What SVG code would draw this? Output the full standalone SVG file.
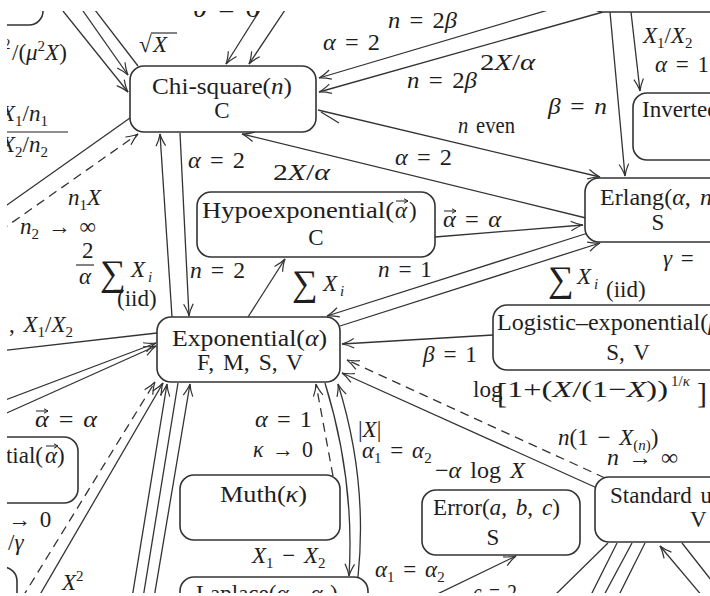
<svg xmlns="http://www.w3.org/2000/svg" width="710" height="596" viewBox="0 0 710 596">
<defs>
<style>
.t{font-family:"Liberation Serif","Times New Roman",serif;font-size:23px;fill:#1e1e1e;word-spacing:3px}
.i{font-style:italic}
.s{font-size:15px}
.box{fill:#fff;stroke:#333;stroke-width:1.6}
.ln{fill:none;stroke:#333;stroke-width:1.3}
.d{stroke-dasharray:9 6}
.ar{marker-end:url(#ah)}
</style>
<marker id="ah" viewBox="-14 -7 16 14" refX="0" refY="0" markerWidth="16" markerHeight="14" markerUnits="userSpaceOnUse" orient="auto"><path d="M-12,-4.8 Q-5,-1 0,0 Q-5,1 -12,4.8" fill="none" stroke="#333" stroke-width="1.2"/></marker>
<marker id="va" viewBox="-6 -4 8 8" refX="0" refY="0" markerWidth="8" markerHeight="8" markerUnits="userSpaceOnUse" orient="auto"><path d="M-4,-2.2 L0,0 L-4,2.2" fill="none" stroke="#1e1e1e" stroke-width="1"/></marker>
<clipPath id="clip"><rect x="7" y="11" width="703" height="582"/></clipPath>
</defs>
<rect width="710" height="596" fill="#fff"/>
<g clip-path="url(#clip)">
<g id="connectors">
<path class="ln ar" d="M63,11 L128,92"/>
<path class="ln ar" d="M83,11 L128,75"/>
<path class="ln" d="M138,66 L95,10"/>
<path class="ln ar" d="M260,10 L226,64"/>
<path class="ln ar" d="M285,10 L249,64"/>
<path class="ln ar" d="M565,5 L319,78"/>
<path class="ln ar" d="M603,12 L319,92"/>
<path class="ln ar" d="M610,12 L625,176"/>
<path class="ln ar" d="M631,12 L640,91"/>
<path class="ln ar" d="M318,110 L600,177"/>
<path class="ln" d="M321,112 L339,123"/>
<path class="ln ar" d="M586,218 L242,134"/>
<path class="ln ar" d="M172,317 L160,134"/>
<path class="ln ar" d="M180,133 L189,316"/>
<path class="ln" d="M130,118 L0,210"/>
<path class="ln d ar" d="M0,231 L138,134"/>
<path class="ln ar" d="M248,317 L285,259"/>
<path class="ln ar" d="M435,237 L583,225"/>
<path class="ln ar" d="M588,233 L327,316"/>
<path class="ln ar" d="M340,326 L600,243"/>
<path class="ln ar" d="M493,335 L342,344"/>
<path class="ln" d="M0,351 L157,333"/>
<path class="ln ar" d="M0,402 L156,343"/>
<path class="ln ar" d="M0,416 L156,346"/>
<path class="ln d ar" d="M22,598 L155,382"/>
<path class="ln ar" d="M38,598 L163,383"/>
<path class="ln ar" d="M132,598 L167,384"/>
<path class="ln" d="M143,598 L178,383"/>
<path class="ln ar" d="M154,598 L190,384"/>
<path class="ln d ar" d="M333,476 L316,384"/>
<path class="ln ar" d="M325,383 Q355,480 349,576"/>
<path class="ln ar" d="M358,577 Q368,480 338,384"/>
<path class="ln ar" d="M597,488 L342,373"/>
<path class="ln d ar" d="M605,478 L347,360"/>
<path class="ln ar" d="M425,600 L516,556"/>
<path class="ln" d="M608,543 L553,597"/>
<path class="ln" d="M617,543 L590,597"/>
<path class="ln" d="M632,543 L603,597"/>
<path class="ln" d="M645,543 L618,597"/>
<path class="ln ar" d="M703,597 L660,546"/>
<path class="ln" d="M682,543 L715,585"/>
</g>
<g id="n-topleft"><rect class="box" x="-200" y="-60" width="243" height="85" rx="14"/></g>
<g id="n-gamma"><rect class="box" x="589" y="-60" width="200" height="72" rx="14"/></g>
<g id="n-chisquare" class="t">
<rect class="box" x="130" y="66" width="186" height="66" rx="14"/>
<text x="152" y="94" textLength="140" lengthAdjust="spacingAndGlyphs">Chi-square(<tspan class="i">n</tspan>)</text>
<text x="222" y="118" text-anchor="middle">C</text>
</g>
<g id="n-inverted" class="t">
<rect class="box" x="633" y="93" width="140" height="67" rx="14"/>
<text x="642" y="117">Inverted gamma(<tspan class="i">α</tspan>, <tspan class="i">β</tspan>)</text>
</g>
<g id="n-hypo" class="t">
<rect class="box" x="197" y="192" width="238" height="65" rx="14"/>
<text x="202" y="218" textLength="192" lengthAdjust="spacingAndGlyphs">Hypoexponential(</text>
<text x="395" y="218" class="i">α</text>
<text x="409" y="218">)</text>
<path d="M396,201 L408,201" stroke="#1e1e1e" stroke-width="1" marker-end="url(#va)"/>
<text x="316" y="245" text-anchor="middle">C</text>
</g>
<g id="n-erlang" class="t">
<rect class="box" x="585" y="178" width="150" height="64" rx="14"/>
<text x="600" y="205" textLength="120" lengthAdjust="spacingAndGlyphs">Erlang(<tspan class="i">α</tspan>, <tspan class="i">n</tspan>)</text>
<text x="658" y="230" text-anchor="middle">S</text>
</g>
<g id="n-exponential" class="t">
<rect class="box" x="157" y="317" width="183" height="65" rx="14"/>
<text x="172" y="346" textLength="155" lengthAdjust="spacingAndGlyphs">Exponential(<tspan class="i">α</tspan>)</text>
<text x="197" y="370" textLength="106" lengthAdjust="spacingAndGlyphs">F, M, S, V</text>
</g>
<g id="n-logexp" class="t">
<rect class="box" x="493" y="305" width="270" height="65" rx="14"/>
<text x="497" y="330" textLength="258" lengthAdjust="spacingAndGlyphs">Logistic–exponential(<tspan class="i">β</tspan>, <tspan class="i">κ</tspan>)</text>
<text x="628" y="360" text-anchor="middle">S, V</text>
</g>
<g id="n-hyperexp" class="t">
<rect class="box" x="-200" y="437" width="278" height="66" rx="14"/>
<text x="43" y="463" text-anchor="end">Hyperexponential(</text>
<text x="45" y="463" class="i">α</text>
<text x="57" y="463">)</text>
<path d="M46,446 L58,446" stroke="#1e1e1e" stroke-width="1" marker-end="url(#va)"/>
</g>
<g id="n-muth" class="t">
<rect class="box" x="180" y="475" width="160" height="65" rx="14"/>
<text x="220" y="502" textLength="87" lengthAdjust="spacingAndGlyphs">Muth(<tspan class="i">κ</tspan>)</text>
</g>
<g id="n-error" class="t">
<rect class="box" x="422" y="490" width="158" height="65" rx="14"/>
<text x="433" y="515" textLength="127" lengthAdjust="spacingAndGlyphs">Error(<tspan class="i">a</tspan>, <tspan class="i">b</tspan>, <tspan class="i">c</tspan>)</text>
<text x="493" y="545" text-anchor="middle">S</text>
</g>
<g id="n-uniform" class="t">
<rect class="box" x="595" y="477" width="200" height="65" rx="14"/>
<text x="610" y="503">Standard uniform</text>
<text x="690" y="527">V</text>
</g>
<g id="n-laplace" class="t">
<rect class="box" x="180" y="577" width="188" height="60" rx="14"/>
<text x="196" y="601">Laplace(<tspan class="i">α</tspan><tspan class="s" dy="5">1</tspan><tspan dy="-5">, </tspan><tspan class="i">α</tspan><tspan class="s" dy="5">2</tspan><tspan dy="-5">)</tspan></text>
</g>
<g id="n-botleft"><rect class="box" x="-200" y="567" width="217" height="80" rx="14"/></g>
<g id="labels" class="t">
<text x="193" y="17" textLength="67" lengthAdjust="spacingAndGlyphs"><tspan class="i">θ</tspan> = 0</text>
<text x="139" y="52">√</text><text x="153" y="52" class="i">X</text>
<path d="M151,33 L177,33" stroke="#1e1e1e" stroke-width="1.1"/>
<text x="3" y="49" class="s">2</text>
<text x="12" y="60">/(<tspan class="i">μ</tspan><tspan class="s" dy="-9">2</tspan><tspan class="i" dy="9">X</tspan>)</text>
<text x="388" y="28" textLength="69" lengthAdjust="spacingAndGlyphs"><tspan class="i">n</tspan> = 2<tspan class="i">β</tspan></text>
<text x="323" y="50" textLength="57" lengthAdjust="spacingAndGlyphs"><tspan class="i">α</tspan> = 2</text>
<text x="407" y="88" textLength="70" lengthAdjust="spacingAndGlyphs"><tspan class="i">n</tspan> = 2<tspan class="i">β</tspan></text>
<text x="480" y="70" textLength="55" lengthAdjust="spacingAndGlyphs">2<tspan class="i">X</tspan>/<tspan class="i">α</tspan></text>
<text x="643" y="43"><tspan class="i">X</tspan><tspan class="s" dy="5">1</tspan><tspan dy="-5">/</tspan><tspan class="i">X</tspan><tspan class="s" dy="5">2</tspan></text>
<text x="655" y="72"><tspan class="i">α</tspan> = 1</text>
<text x="548" y="114" textLength="59" lengthAdjust="spacingAndGlyphs"><tspan class="i">β</tspan> = <tspan class="i">n</tspan></text>
<text x="458" y="133" textLength="57" lengthAdjust="spacingAndGlyphs"><tspan class="i">n</tspan> even</text>
<text x="395" y="165" textLength="57" lengthAdjust="spacingAndGlyphs"><tspan class="i">α</tspan> = 2</text>
<text x="273" y="180" textLength="57" lengthAdjust="spacingAndGlyphs">2<tspan class="i">X</tspan>/<tspan class="i">α</tspan></text>
<text x="188" y="168" textLength="57" lengthAdjust="spacingAndGlyphs"><tspan class="i">α</tspan> = 2</text>
<text x="1" y="121"><tspan class="i">X</tspan><tspan class="s" dy="5">1</tspan><tspan dy="-5">/</tspan><tspan class="i">n</tspan><tspan class="s" dy="5">1</tspan></text>
<path d="M0,132 L68,132" stroke="#1e1e1e" stroke-width="1.2"/>
<text x="1" y="152"><tspan class="i">X</tspan><tspan class="s" dy="5">2</tspan><tspan dy="-5">/</tspan><tspan class="i">n</tspan><tspan class="s" dy="5">2</tspan></text>
<text x="68" y="205"><tspan class="i">n</tspan><tspan class="s" dy="5">1</tspan><tspan class="i" dy="-5">X</tspan></text>
<text x="20" y="234"><tspan class="i">n</tspan><tspan class="s" dy="5">2</tspan><tspan dy="-5"> → ∞</tspan></text>
<text x="82" y="258">2</text>
<path d="M76,265 L94,265" stroke="#1e1e1e" stroke-width="1.1"/>
<text x="79" y="284" class="i">α</text>
<text x="100" y="285" style="font-size:36px">∑</text>
<text x="131" y="277" class="i">X</text><text x="148" y="282" class="i s">i</text>
<text x="117" y="306">(iid)</text>
<text x="190" y="278" textLength="55" lengthAdjust="spacingAndGlyphs"><tspan class="i">n</tspan> = 2</text>
<text x="292" y="295" style="font-size:36px">∑</text>
<text x="323" y="291" class="i">X</text><text x="340" y="296" class="i s">i</text>
<text x="378" y="277" textLength="54" lengthAdjust="spacingAndGlyphs"><tspan class="i">n</tspan> = 1</text>
<text x="443" y="227" textLength="58" lengthAdjust="spacingAndGlyphs"><tspan class="i">α</tspan> = <tspan class="i">α</tspan></text>
<path d="M444,211 L456,211" stroke="#1e1e1e" stroke-width="1" marker-end="url(#va)"/>
<text x="548" y="291" style="font-size:36px">∑</text>
<text x="577" y="284" class="i">X</text><text x="594" y="289" class="i s">i</text>
<text x="606" y="297">(iid)</text>
<text x="663" y="266"><tspan class="i">γ</tspan> =</text>
<text x="423" y="362" textLength="54" lengthAdjust="spacingAndGlyphs"><tspan class="i">β</tspan> = 1</text>
<text x="473" y="397">log</text>
<text x="497" y="403" style="font-size:30px">[</text>
<text x="507" y="397" textLength="161" lengthAdjust="spacingAndGlyphs">1+(<tspan class="i">X</tspan>/(1−<tspan class="i">X</tspan>))</text>
<text x="671" y="386" class="s">1/<tspan class="i">κ</tspan></text>
<text x="697" y="403" style="font-size:30px">]</text>
<text x="435" y="478" textLength="90" lengthAdjust="spacingAndGlyphs">−<tspan class="i">α</tspan> log <tspan class="i">X</tspan></text>
<text x="558" y="445"><tspan class="i">n</tspan>(1 − <tspan class="i">X</tspan><tspan class="s" dy="5">(<tspan class="i">n</tspan>)</tspan><tspan dy="-5">)</tspan></text>
<text x="607" y="465" textLength="71" lengthAdjust="spacingAndGlyphs"><tspan class="i">n</tspan> → ∞</text>
<text x="255" y="427" textLength="57" lengthAdjust="spacingAndGlyphs"><tspan class="i">α</tspan> = 1</text>
<text x="253" y="457" textLength="60" lengthAdjust="spacingAndGlyphs"><tspan class="i">κ</tspan> → 0</text>
<text x="358" y="437">|<tspan class="i">X</tspan>|</text>
<text x="362" y="458"><tspan class="i">α</tspan><tspan class="s" dy="5">1</tspan><tspan dy="-5"> = </tspan><tspan class="i">α</tspan><tspan class="s" dy="5">2</tspan></text>
<text x="252" y="563"><tspan class="i">X</tspan><tspan class="s" dy="5">1</tspan><tspan dy="-5"> − </tspan><tspan class="i">X</tspan><tspan class="s" dy="5">2</tspan></text>
<text x="375" y="577"><tspan class="i">α</tspan><tspan class="s" dy="5">1</tspan><tspan dy="-5"> = </tspan><tspan class="i">α</tspan><tspan class="s" dy="5">2</tspan></text>
<text x="473" y="600" textLength="44" lengthAdjust="spacingAndGlyphs"><tspan class="i">c</tspan> = 2</text>
<text x="62" y="590"><tspan class="i">X</tspan><tspan class="s" dy="-9">2</tspan></text>
<text x="35" y="427" textLength="62" lengthAdjust="spacingAndGlyphs"><tspan class="i">α</tspan> = <tspan class="i">α</tspan></text>
<path d="M36,411 L48,411" stroke="#1e1e1e" stroke-width="1" marker-end="url(#va)"/>
<text x="8" y="527">→ 0</text>
<text x="8" y="550">/<tspan class="i">γ</tspan></text>
<text x="9" y="332">, <tspan class="i">X</tspan><tspan class="s" dy="5">1</tspan><tspan dy="-5">/</tspan><tspan class="i">X</tspan><tspan class="s" dy="5">2</tspan></text>
</g>
</g>
</svg>
